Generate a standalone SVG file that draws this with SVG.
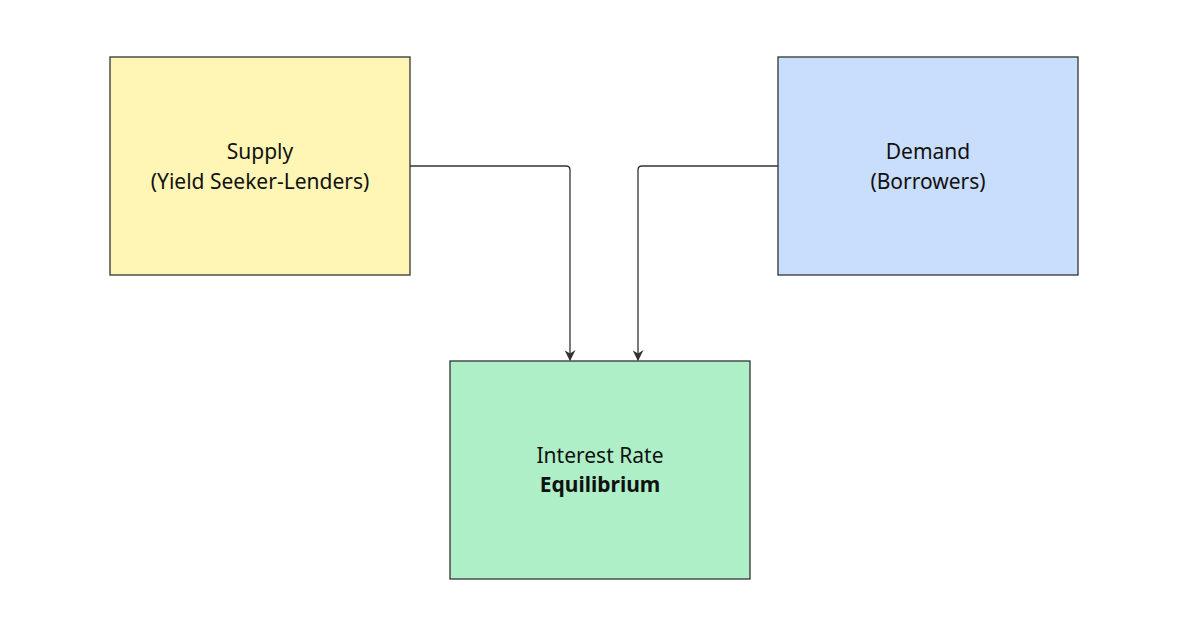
<svg xmlns="http://www.w3.org/2000/svg" width="1200" height="639" viewBox="0 0 1200 639">
<defs>
<style>
.box{stroke:#333;stroke-width:1.3}
.t{font-family:"Noto Sans","Open Sans",sans-serif;font-size:21px;fill:#111;text-anchor:middle}
.b{font-weight:bold}
.c{fill:none;stroke:#333;stroke-width:1.3}
</style>
<marker id="arr" viewBox="0 0 10 10" refX="9" refY="5" markerWidth="11" markerHeight="11" markerUnits="userSpaceOnUse" orient="auto">
<path d="M0,0 L10,5 L0,10 L3,5 Z" fill="#333"/>
</marker>
</defs>
<rect width="1200" height="639" fill="#fff"/>
<g id="connectors">
<path class="c" d="M410,166 H566 Q570,166 570,170 V360" marker-end="url(#arr)"/>
<path class="c" d="M778,166 H642 Q638,166 638,170 V360" marker-end="url(#arr)"/>
</g>
<g id="supply">
<rect class="box" x="110" y="57" width="300" height="218" fill="#fff5b5"/>
<text class="t" x="260" y="159">Supply</text>
<text class="t" x="260" y="189">(Yield Seeker-Lenders)</text>
</g>
<g id="demand">
<rect class="box" x="778" y="57" width="300" height="218" fill="#c9ddfc"/>
<text class="t" x="928" y="159">Demand</text>
<text class="t" x="928" y="189">(Borrowers)</text>
</g>
<g id="equilibrium">
<rect class="box" x="450" y="361" width="300" height="218" fill="#aeefc7"/>
<text class="t" x="600" y="463">Interest Rate</text>
<text class="t b" x="600" y="492">Equilibrium</text>
</g>
</svg>
